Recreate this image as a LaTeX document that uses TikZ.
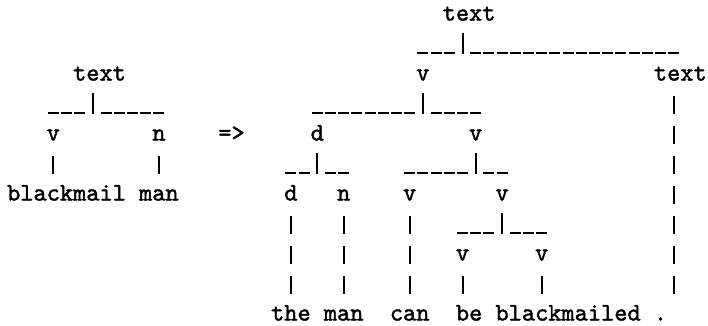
\documentclass[tikz,border=0pt]{standalone}
\usepackage{fontspec}
\usetikzlibrary{calc}

% typewriter face, a little heavier than the regular cut
\newfontfamily\asciifont{lmmono10-regular.otf}[FakeBold=1.6]

% Character grid: one column = 13.2pt, one text row = 30pt.
\tikzset{
  lbl/.style={font=\asciifont\fontsize{25.14}{25}\selectfont,
              inner sep=0pt, anchor=base},
  pipe/.style={line width=2pt, dash pattern=on 18pt off 12pt},
  stem/.style={line width=2pt},
  underbar/.style={line width=2pt, dash pattern=on 11pt off 2.2pt},
}

% vertical link of "|" characters from a node down to a node below it
\newcommand\tpipe[3][0pt]{%
  \draw[pipe] let \p1=(#2.base), \p2=(#3.base) in
    ({\x1+(#1)},{\y1-15.5pt}) -- ({\x1+(#1)},{\y2+26.5pt});}

% "___|___" branching: parent, its stem shift, left child, shift, right child, shift
\newcommand\tbar[6]{%
  \draw[stem] let \p1=(#1.base) in
    ({\x1+(#2)},{\y1-12.5pt}) -- ({\x1+(#2)},{\y1-33pt});
  \draw[underbar] let \p1=(#1.base), \p2=(#3.base) in
    ({\x2+(#4)-5.5pt},{\y1-32pt}) -- ({\x1+(#2)-7.7pt},{\y1-32pt});
  \draw[underbar] let \p1=(#1.base), \p3=(#5.base) in
    ({\x1+(#2)+7.7pt},{\y1-32pt}) -- ({\x3+(#6)+5.5pt},{\y1-32pt});}

\begin{document}
\begin{tikzpicture}[x=1pt,y=1pt]
\fill[white] (0,0) rectangle (708,-325);
\useasboundingbox (0,0) rectangle (708,-325);

% small tree
\node[lbl] (t1) at (99.5,-80.5) {text};
\node[lbl] (v1) at (53.3,-140.5) {v};
\node[lbl] (n1) at (158.9,-140.5) {n};
\node[lbl] (wBlackmail) at (66.5,-200.5) {blackmail};
\node[lbl] (wMan1) at (158.9,-200.5) {man};

\node[lbl] (arrow) at (231.5,-140.5) {=>};

% large tree
\node[lbl] (t2) at (469.1,-20.5) {text};
\node[lbl] (v2) at (422.9,-80.5) {v};
\node[lbl] (t3) at (680.3,-80.5) {text};
\node[lbl] (d1) at (317.3,-140.5) {d};
\node[lbl] (v3) at (475.7,-140.5) {v};
\node[lbl] (d2) at (290.9,-200.5) {d};
\node[lbl] (n2) at (343.7,-200.5) {n};
\node[lbl] (v4) at (409.7,-200.5) {v};
\node[lbl] (v5) at (502.1,-200.5) {v};
\node[lbl] (v6) at (462.5,-260.5) {v};
\node[lbl] (v7) at (541.7,-260.5) {v};
\node[lbl] (wThe) at (290.9,-320.5) {the};
\node[lbl] (wMan2) at (343.7,-320.5) {man};
\node[lbl] (wCan) at (409.7,-320.5) {can};
\node[lbl] (wBe) at (469.1,-320.5) {be};
\node[lbl] (wBlackmailed) at (568.1,-320.5) {blackmailed};
\node[lbl] (wDot) at (660.5,-320.5) {.};

% links of the small tree
\tbar{t1}{-6.6pt}{v1}{0pt}{n1}{0pt}
\tpipe{v1}{wBlackmail}
\tpipe{n1}{wMan1}

% links of the large tree
\tbar{t2}{-6.6pt}{v2}{0pt}{t3}{-6.6pt}
\tpipe[-6.6pt]{t3}{wDot}
\tbar{v2}{0pt}{d1}{0pt}{v3}{0pt}
\tbar{d1}{0pt}{d2}{0pt}{n2}{0pt}
\tbar{v3}{0pt}{v4}{0pt}{v5}{0pt}
\tbar{v5}{0pt}{v6}{0pt}{v7}{0pt}
\tpipe{d2}{wThe}
\tpipe{n2}{wMan2}
\tpipe{v4}{wCan}
\tpipe{v6}{wBe}
\tpipe{v7}{wBlackmailed}
\end{tikzpicture}
\end{document}
